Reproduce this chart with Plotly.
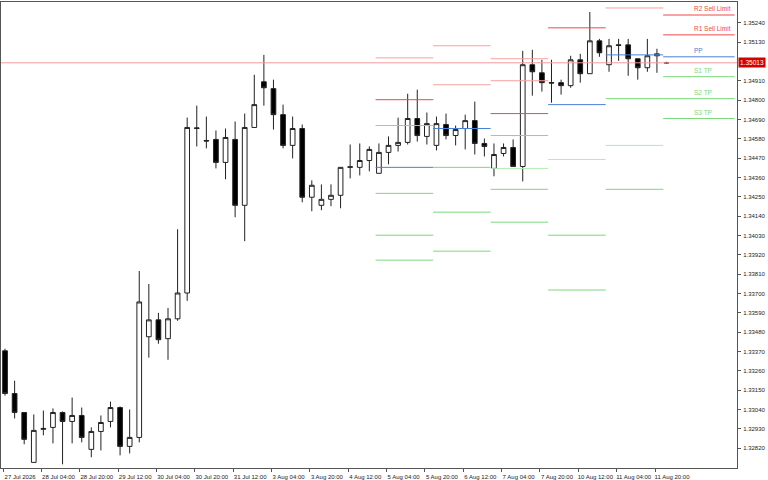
import plotly.graph_objects as go

# 4h candles, 27 Jul 2026 12:00 .. 11 Aug (weekend skipped, index axis)
opens = [1.33374, 1.33131, 1.33023, 1.32739, 1.32927, 1.32938, 1.33023, 1.32972, 1.33006, 1.32813,
         1.32915, 1.32972, 1.33051, 1.32830, 1.32881, 1.33454, 1.33550, 1.33443, 1.33556, 1.33703,
         1.34639, 1.34571, 1.34577, 1.34446, 1.34577, 1.34202, 1.34645, 1.34905, 1.34866, 1.34718,
         1.34543, 1.34639, 1.34248, 1.34202, 1.34236, 1.34259, 1.34418, 1.34418, 1.34457, 1.34384,
         1.34503, 1.34543, 1.34560, 1.34696, 1.34594, 1.34543, 1.34662, 1.34599, 1.34639, 1.34684,
         1.34554, 1.34412, 1.34497, 1.34531, 1.34423, 1.35002, 1.34956, 1.34900, 1.34900, 1.34883,
         1.35030, 1.34951, 1.35138, 1.35002, 1.35115, 1.35115, 1.35036, 1.34985, 1.35053, 1.35013]
highs = [1.33386, 1.33204, 1.33023, 1.33012, 1.33034, 1.33046, 1.33029, 1.33108, 1.33051, 1.32938,
         1.33006, 1.33085, 1.33057, 1.33040, 1.33828, 1.33754, 1.33590, 1.33618, 1.34066, 1.34701,
         1.34769, 1.34707, 1.34628, 1.34639, 1.34679, 1.34724, 1.34945, 1.35058, 1.34917, 1.34775,
         1.34707, 1.34662, 1.34344, 1.34321, 1.34321, 1.34418, 1.34548, 1.34554, 1.34537, 1.34554,
         1.34594, 1.34701, 1.34837, 1.34860, 1.34730, 1.34707, 1.34724, 1.34656, 1.34718, 1.34792,
         1.34582, 1.34554, 1.34554, 1.34577, 1.35081, 1.35087, 1.35030, 1.35030, 1.34917, 1.35053,
         1.35064, 1.35302, 1.35149, 1.35149, 1.35149, 1.35149, 1.35036, 1.35149, 1.35093, 1.35019]
lows = [1.33119, 1.32989, 1.32842, 1.32739, 1.32893, 1.32847, 1.32728, 1.32847, 1.32853, 1.32768,
        1.32807, 1.32938, 1.32779, 1.32790, 1.32853, 1.33335, 1.33414, 1.33323, 1.33545, 1.33658,
        1.34537, 1.34526, 1.34412, 1.34350, 1.34134, 1.33998, 1.34645, 1.34769, 1.34633, 1.34526,
        1.34469, 1.34219, 1.34168, 1.34174, 1.34197, 1.34185, 1.34355, 1.34372, 1.34395, 1.34384,
        1.34435, 1.34508, 1.34548, 1.34565, 1.34548, 1.34514, 1.34577, 1.34543, 1.34520, 1.34491,
        1.34480, 1.34367, 1.34480, 1.34423, 1.34338, 1.34826, 1.34849, 1.34786, 1.34832, 1.34871,
        1.34900, 1.34951, 1.35047, 1.34962, 1.35024, 1.34939, 1.34917, 1.34962, 1.34956, 1.35007]
closes = [1.33131, 1.33023, 1.32870, 1.32921, 1.32932, 1.33023, 1.32972, 1.33006, 1.32881, 1.32915,
          1.32966, 1.33051, 1.32830, 1.32881, 1.33652, 1.33550, 1.33437, 1.33556, 1.33703, 1.34645,
          1.34642, 1.34568, 1.34446, 1.34588, 1.34202, 1.34645, 1.34775, 1.34871, 1.34718, 1.34543,
          1.34639, 1.34248, 1.34316, 1.34236, 1.34259, 1.34418, 1.34421, 1.34457, 1.34520, 1.34503,
          1.34543, 1.34560, 1.34696, 1.34599, 1.34667, 1.34667, 1.34599, 1.34633, 1.34684, 1.34554,
          1.34537, 1.34491, 1.34531, 1.34423, 1.35002, 1.34962, 1.34900, 1.34898, 1.34883, 1.35030,
          1.34951, 1.35138, 1.35070, 1.35110, 1.35112, 1.35036, 1.34985, 1.35053, 1.35064, 1.35013]

x_labels = ["27 Jul 2026", "28 Jul 04:00", "28 Jul 20:00", "29 Jul 12:00", "30 Jul 04:00",
            "30 Jul 20:00", "31 Jul 12:00", "3 Aug 04:00", "3 Aug 20:00", "4 Aug 12:00",
            "5 Aug 04:00", "5 Aug 20:00", "6 Aug 12:00", "7 Aug 04:00", "7 Aug 20:00",
            "10 Aug 12:00", "11 Aug 04:00", "11 Aug 20:00"]
y_ticks = ["1.35240", "1.35130", "1.34910", "1.34800", "1.34690", "1.34580", "1.34470",
           "1.34360", "1.34250", "1.34140", "1.34030", "1.33920", "1.33810", "1.33700",
           "1.33590", "1.33480", "1.33370", "1.33260", "1.33150", "1.33040", "1.32930", "1.32820"]

current_price = 1.35013

# daily pivot levels: (first candle index of day, [(price, kind), ...])
pivot_days = [
    (38.65, [(1.35041, "r2"), (1.34803, "r"), (1.34656, "r2"), (1.34418, "b"),
             (1.34270, "g"), (1.34032, "g"), (1.33890, "g")]),
    (44.65, [(1.35110, "r2"), (1.34888, "r2"), (1.34639, "b"),
             (1.34418, "g"), (1.34163, "g"), (1.33941, "g")]),
    (50.65, [(1.35036, "r2"), (1.34911, "r2"), (1.34724, "r"), (1.34599, "b2"),
             (1.34412, "g2"), (1.34293, "g"), (1.34106, "g")]),
    (56.65, [(1.35212, "r"), (1.34775, "b"), (1.34463, "g2"), (1.34032, "g"), (1.33720, "g")]),
    (62.65, [(1.35325, "r2"), (1.35058, "b"), (1.34809, "g"), (1.34543, "g2"), (1.34293, "g")]),
]
last_day_start = 68.65
last_day_end = 76.1
last_levels = [1.35285, 1.35172, 1.35047, 1.34934, 1.34809, 1.34696]
last_kinds = ["r", "r", "b", "g", "g", "g"]
last_names = ["R2 Sell Limit", "R1 Sell Limit", "PP", "S1 TP", "S2 TP", "S3 TP"]

colors = {"r": "#f04848", "r2": "#f5a0a0", "b": "#4a7fd8", "b2": "#9ab9ee",
          "g": "#7cd87c", "g2": "#b4e8b4"}

fig = go.Figure()

fig.add_shape(type="line", xref="paper", x0=0, x1=1, y0=current_price, y1=current_price,
              line=dict(color="#f29a9a", width=1))

segs = {k: ([], []) for k in colors}
for start, lv in pivot_days:
    for price, kind in lv:
        segs[kind][0].extend([start, start + 6, None])
        segs[kind][1].extend([price, price, None])
for price, kind in zip(last_levels, last_kinds):
    segs[kind][0].extend([last_day_start, last_day_end, None])
    segs[kind][1].extend([price, price, None])
for kind, (xs, ys) in segs.items():
    fig.add_trace(go.Scatter(x=xs, y=ys, mode="lines", line=dict(color=colors[kind], width=1),
                             hoverinfo="skip", showlegend=False))

idx = list(range(len(opens)))
fig.add_trace(go.Candlestick(
    x=idx, open=opens, high=highs, low=lows, close=closes,
    increasing=dict(fillcolor="white", line=dict(color="#222", width=1)),
    decreasing=dict(fillcolor="black", line=dict(color="#222", width=1)),
    whiskerwidth=0, showlegend=False))

for price, kind, name in zip(last_levels, last_kinds, last_names):
    fig.add_annotation(x=71.7, y=price, text=name, showarrow=False, xanchor="left",
                       yanchor="bottom", yshift=1, font=dict(size=6.5, color=colors[kind]))

fig.add_annotation(xref="paper", x=1, y=current_price, text="1.35013", showarrow=False,
                   xanchor="left", xshift=1, bgcolor="#d40000",
                   font=dict(size=6.5, color="white"), borderpad=1)

fig.update_layout(
    width=768, height=480, margin=dict(l=1, r=31, t=2, b=12),
    paper_bgcolor="white", plot_bgcolor="white",
    font=dict(family="Liberation Sans", size=6, color="#222"),
    xaxis=dict(range=[-0.42, 76.35], rangeslider=dict(visible=False),
               tickvals=[4 * k - 0.2 for k in range(len(x_labels))], ticktext=x_labels,
               ticks="outside", ticklen=3, tickcolor="#555", ticklabelshift=17,
               tickangle=0, automargin=False, ticklabelstandoff=0,
               showgrid=False, zeroline=False, showline=True, linecolor="#555", mirror=True),
    yaxis=dict(range=[1.32707, 1.35359], side="right", automargin=False,
               tickvals=[float(t) for t in y_ticks], ticktext=y_ticks,
               ticks="outside", ticklen=3, tickcolor="#555", ticklabelstandoff=1,
               showgrid=False, zeroline=False, showline=True, linecolor="#555", mirror=True),
)

fig.write_html("out.html", config={"displayModeBar": False},
               post_script="document.body.style.margin='0px';")
